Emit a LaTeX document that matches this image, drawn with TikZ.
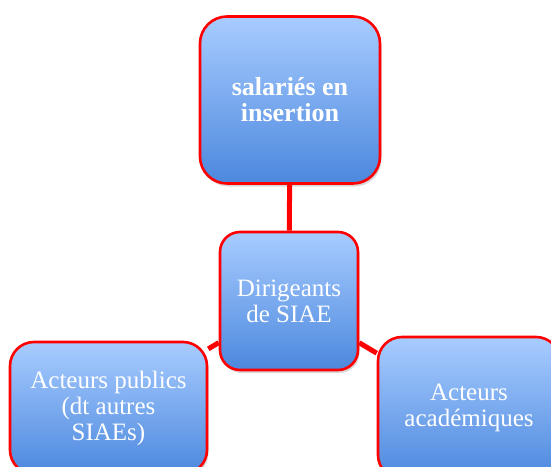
\documentclass[tikz,border=0pt]{standalone}
\usepackage{fontspec}
\setmainfont{Liberation Serif}
\usetikzlibrary{shadows}

\begin{document}
\begin{tikzpicture}[x=1pt,y=1pt]
	\useasboundingbox (0,0) rectangle (551,-466);
	\definecolor{bleuhaut}{RGB}{168,204,255}
	\definecolor{bleubas}{RGB}{76,136,222}
	\tikzstyle{boite}=[rectangle,draw=red,line width=2.6pt,top color=bleuhaut,bottom color=bleubas,text=white,align=center,font=\fontsize{25}{26}\selectfont,drop shadow={shadow xshift=1.5pt,shadow yshift=-3pt,opacity=0.3}]
	\tikzstyle{grande}=[boite,rounded corners=27pt,minimum width=180pt,minimum height=167pt,font=\fontsize{26}{26}\selectfont\bfseries]
	\tikzstyle{moyenne}=[boite,rounded corners=20pt,minimum width=138pt,minimum height=138pt]
	\tikzstyle{large}=[boite,rounded corners=24pt,minimum width=197pt,minimum height=132pt]
	\tikzstyle{lien}=[draw=red,line width=5pt]
	\node[grande] (sal) at (290,-100){salariés en\\insertion};
	\node[moyenne] (dir) at (289,-301){Dirigeants\\de SIAE};
	\node[large] (pub) at (108.5,-408){Acteurs publics\\(dt autres\\SIAEs)};
	\node[large,minimum width=182pt,minimum height=142pt] (acad) at (469,-408){Acteurs\\académiques};
	\draw[lien] (sal) -- (dir);
	\draw[lien] (dir) -- (pub);
	\draw[lien] (dir) -- (acad);
\end{tikzpicture}
\end{document}
